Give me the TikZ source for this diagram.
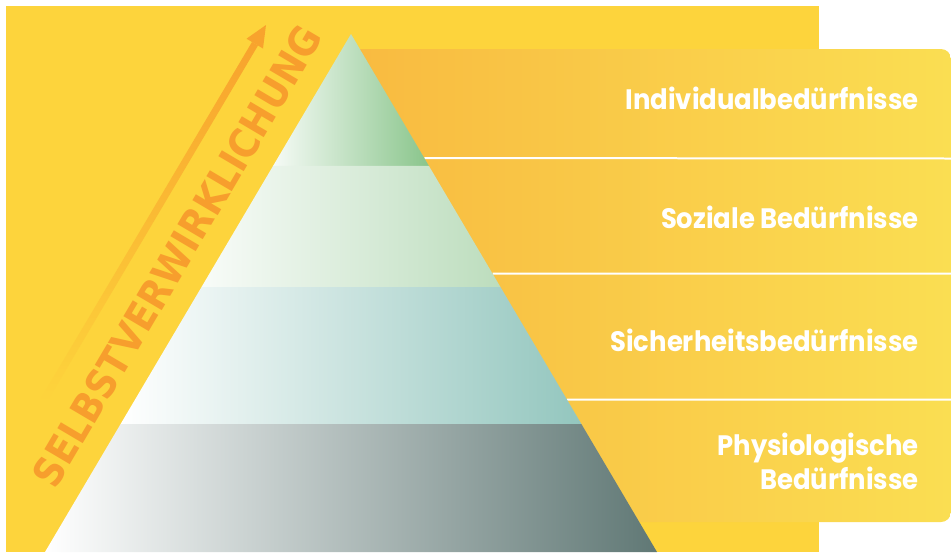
\documentclass[tikz,border=0pt]{standalone}
\usepackage{fontspec}
\usepackage{xcolor}
\usepackage{tikz}
\usetikzlibrary{calc}
\newfontfamily\labelfont{Poppins}[FakeStretch=0.92]
\newfontfamily\condfont{DejaVu Sans Condensed}
\definecolor{bgyellow}{RGB}{253,212,60}
\definecolor{arroworange}{RGB}{248,163,45}
\definecolor{textorange}{RGB}{247,158,45}
\definecolor{bandorange}{RGB}{249,186,64}
\definecolor{bandyellow}{RGB}{250,222,82}
\definecolor{topgreen}{RGB}{137,197,139}
\definecolor{lightgreen}{RGB}{188,221,189}
\definecolor{teal}{RGB}{147,198,190}
\definecolor{slate}{RGB}{96,120,117}

\begin{document}
\begin{tikzpicture}[x=0.02cm,y=-0.02cm]
\tikzset{
  label/.style={font=\labelfont\bfseries\fontsize{16}{19.5}\selectfont, text=white, anchor=east, align=right, inner sep=0pt},
  sep/.style={white, line width=0.04cm}
}
\useasboundingbox (0,0) rectangle (951,552);
\fill[bgyellow] (6,6) rectangle (819,552);
\coordinate (apex) at (351,34);
\coordinate (bl) at (45,552);
\coordinate (br) at (657,552);
\coordinate (l1) at ($(apex)!0.2548!(bl)$);
\coordinate (r1) at ($(apex)!0.2548!(br)$);
\coordinate (l2) at ($(apex)!0.4884!(bl)$);
\coordinate (r2) at ($(apex)!0.4884!(br)$);
\coordinate (l3) at ($(apex)!0.7529!(bl)$);
\coordinate (r3) at ($(apex)!0.7529!(br)$);
\shade[rounded corners=0.2cm, left color=bandorange, middle color=bandorange!85!bandyellow, right color=bandyellow] (345,49) rectangle (951,522);
\draw[sep] ($(apex)!0.2394!(br)$) -- (951,158.5);
\draw[sep] ($(apex)!0.4626!(br)$) -- (951,273.5);
\draw[sep] ($(apex)!0.7056!(br)$) -- (951,399.5);
\shade[left color=topgreen!8!white, middle color=topgreen, right color=topgreen] (apex) -- (r1) -- (l1) -- cycle;
\shade[left color=lightgreen!10!white, middle color=lightgreen, right color=lightgreen] (l1) -- (r1) -- (r2) -- (l2) -- cycle;
\shade[left color=white, middle color=teal!80!white, right color=teal] (l2) -- (r2) -- (r3) -- (l3) -- cycle;
\shade[left color=white, middle color=slate!55!white, right color=slate] (l3) -- (r3) -- (br) -- (bl) -- cycle;
\coordinate (tail) at (44,400);
\coordinate (tip) at (266,25);
\shade[top color=arroworange, middle color=arroworange!82!bgyellow, bottom color=bgyellow] ($(tail)+(-3,-1.8)$) -- ($(tail)+(3,1.8)$) -- (258,45.5) -- (252,42) -- cycle;
\fill[arroworange] (tip) -- (263,48.5) -- (246.5,38.7) -- cycle;
\node[font=\condfont\bfseries\fontsize{23}{24}\selectfont, text=textorange, rotate=59.4, inner sep=0pt] (selbst) at (177,256) {SELBSTVERWIRKLICHUNG};
\node[label] (indiv) at (919,98) {Individualbedürfnisse};
\node[label] (sozial) at (919,217) {Soziale Bedürfnisse};
\node[label] (sicher) at (919,340) {Sicherheitsbedürfnisse};
\node[label] (physio) at (919,461) {Physiologische\\Bedürfnisse};
\end{tikzpicture}
\end{document}
